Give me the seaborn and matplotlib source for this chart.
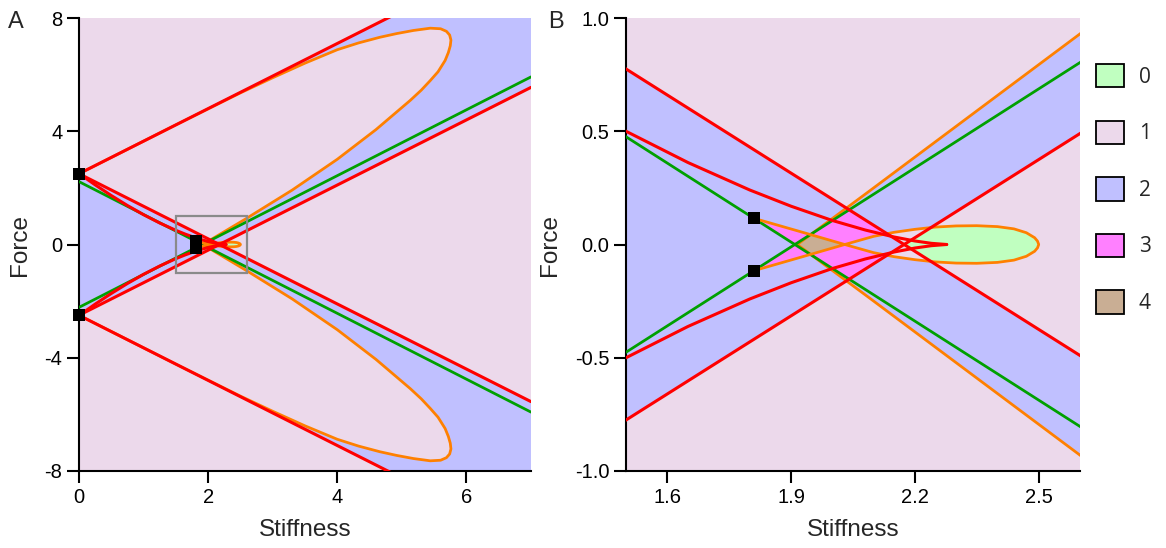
import numpy as np
import matplotlib
matplotlib.use("Agg")
import matplotlib.pyplot as plt
import seaborn as sns
from matplotlib.path import Path
from matplotlib.colors import ListedColormap
from matplotlib.patches import Patch, Rectangle

# ---- region legend ----
region_labels = ["0", "1", "2", "3", "4"]
region_colors = ["#c0ffc0", "#ecd9eb", "#c0c0ff", "#ff80ff", "#c9ae94"]

# ---- straight bifurcation lines (Stiffness, Force) ----
line_x = [0.0, 7.0]
red_rise_top = [2.5, 10.55]
red_fall_top = [2.5, -5.55]
red_rise_bot = [-2.5, 5.55]
red_fall_bot = [-2.5, -10.55]
green_fall = [2.22, -5.92]
green_rise = [-2.22, 5.92]

# ---- cusp branches meeting at the tip ----
cusp_x = [0.0, 0.25, 0.5, 0.75, 1.0, 1.25, 1.5, 1.65, 1.8, 1.9, 2.0, 2.08,
          2.15, 2.2, 2.24, 2.277]
cusp_upper = [2.508, 2.107, 1.729, 1.377, 1.053, 0.760, 0.500, 0.362, 0.2405,
              0.169, 0.106, 0.0638, 0.033, 0.0156, 0.0052, 0.0]
cusp_lower = [-2.508, -2.107, -1.729, -1.377, -1.053, -0.760, -0.500, -0.362,
              -0.2405, -0.169, -0.106, -0.0638, -0.033, -0.0156, -0.0052, 0.0]

# ---- large orange lobes ----
lobe_x = [1.915, 2.092, 2.6, 3.3, 4.0, 4.6, 5.13, 5.30, 5.44, 5.56, 5.67, 5.72,
          5.75, 5.76, 5.74, 5.69, 5.60, 5.44, 5.18, 4.92, 4.66, 4.33, 4.0, 3.5,
          3.0, 2.5, 2.0, 1.5, 1.0, 0.5, 0.0]
lobe_upper_y = [0.0, 0.239, 0.93, 1.92, 3.01, 4.06, 5.09, 5.45, 5.79, 6.10,
                6.50, 6.78, 7.02, 7.22, 7.40, 7.53, 7.62, 7.64, 7.56, 7.45,
                7.32, 7.12, 6.88, 6.405, 5.89, 5.355, 4.79, 4.225, 3.65,
                3.075, 2.5]
lobe_lower_y = [-0.0, -0.239, -0.93, -1.92, -3.01, -4.06, -5.09, -5.45, -5.79,
                -6.10, -6.50, -6.78, -7.02, -7.22, -7.40, -7.53, -7.62, -7.64,
                -7.56, -7.45, -7.32, -7.12, -6.88, -6.405, -5.89, -5.355,
                -4.79, -4.225, -3.65, -3.075, -2.5]

# ---- small self-crossing orange loop ----
loop_x = [1.809, 1.92, 2.03, 2.10, 2.15, 2.20, 2.25, 2.30, 2.35, 2.40, 2.44,
          2.47, 2.49, 2.497, 2.50, 2.497, 2.49, 2.47, 2.44, 2.40, 2.35, 2.30,
          2.25, 2.20, 2.15, 2.10, 2.03, 1.92, 1.809]
loop_y = [0.116, 0.058, 0.0, -0.036, -0.054, -0.067, -0.077, -0.082, -0.083,
          -0.079, -0.069, -0.052, -0.030, -0.015, 0.0, 0.015, 0.030, 0.052,
          0.069, 0.079, 0.083, 0.082, 0.077, 0.067, 0.054, 0.036, 0.0, -0.058,
          -0.116]
loop_cross_index = 2

# ---- special points ----
pts_a_x = [0.0, 0.0, 1.809, 1.809]
pts_a_y = [2.5, -2.5, 0.116, -0.116]
pts_b_x = [1.809, 1.809]
pts_b_y = [0.116, -0.116]

# ---- axes ----
a_xlim, a_ylim = (0.0, 7.0), (-8.0, 8.0)
a_xticks = [0, 2, 4, 6]
a_yticks = [-8, -4, 0, 4, 8]
a_yticklabels = ["-8", "-4", "0", "4", "8"]
b_xlim, b_ylim = (1.5, 2.6), (-1.0, 1.0)
b_xticks = [1.6, 1.9, 2.2, 2.5]
b_xticklabels = ["1.6", "1.9", "2.2", "2.5"]
b_yticks = [-1.0, -0.5, 0.0, 0.5, 1.0]
b_yticklabels = ["-1.0", "-0.5", "0.0", "0.5", "1.0"]

RED, GREEN, ORANGE = "#ff0000", "#00a000", "#ff8000"


def classify(X, Y):
    """Number of coexisting states on a (Stiffness, Force) grid."""
    r1u = np.interp(X, line_x, red_rise_top)
    r2d = np.interp(X, line_x, red_fall_top)
    r2a = np.interp(X, line_x, red_rise_bot)
    r1l = np.interp(X, line_x, red_fall_bot)
    gd = np.interp(X, line_x, green_fall)
    ga = np.interp(X, line_x, green_rise)
    pts = np.column_stack([X.ravel(), Y.ravel()])
    in_up = Path(np.column_stack([lobe_x, lobe_upper_y])).contains_points(pts).reshape(X.shape)
    in_lo = Path(np.column_stack([lobe_x, lobe_lower_y])).contains_points(pts).reshape(X.shape)
    in_loop = Path(np.column_stack([loop_x, loop_y])).contains_points(pts).reshape(X.shape)

    cls = np.ones(X.shape, dtype=int)
    inner = (Y < r2d) & (Y > r2a)
    above = Y > np.maximum(r2d, r2a)
    below = Y < np.minimum(r2d, r2a)
    cls[inner] = 2
    cls[above & (Y < r1u) & ~in_up] = 2
    cls[below & (Y > r1l) & ~in_lo] = 2
    diamond = inner & (Y < ga) & (Y > gd)
    cls[diamond] = 3
    xc = loop_x[loop_cross_index]
    loop_left = in_loop & (X < xc)
    loop_right = in_loop & (X >= xc)
    green_wedge = (Y < gd) & (Y > ga)
    cls[loop_left & ~green_wedge] = 3
    cls[loop_left & diamond] = 4
    cls[loop_right] -= 1
    return cls


def draw_regions(ax, xlim, ylim, nx, ny):
    xs = np.linspace(xlim[0], xlim[1], nx)
    ys = np.linspace(ylim[0], ylim[1], ny)
    X, Y = np.meshgrid(xs, ys)
    cls = classify(X, Y)
    ax.imshow(cls, extent=(xlim[0], xlim[1], ylim[0], ylim[1]), origin="lower",
              cmap=ListedColormap(region_colors), vmin=-0.5, vmax=4.5,
              interpolation="nearest", aspect="auto", zorder=0)


def draw_curves(ax, lw, sq_size, sq_x, sq_y):
    kw = dict(ax=ax, sort=False, estimator=None, legend=False)
    sns.lineplot(x=lobe_x, y=lobe_upper_y, color=ORANGE, lw=lw * 0.9, zorder=2, **kw)
    sns.lineplot(x=lobe_x, y=lobe_lower_y, color=ORANGE, lw=lw * 0.9, zorder=2, **kw)
    sns.lineplot(x=line_x, y=green_fall, color=GREEN, lw=lw * 0.9, zorder=3, **kw)
    sns.lineplot(x=line_x, y=green_rise, color=GREEN, lw=lw * 0.9, zorder=3, **kw)
    sns.lineplot(x=loop_x, y=loop_y, color=ORANGE, lw=lw * 0.9, zorder=4, **kw)
    for ys in (red_rise_top, red_fall_top, red_rise_bot, red_fall_bot):
        sns.lineplot(x=line_x, y=ys, color=RED, lw=lw, zorder=5, **kw)
    sns.lineplot(x=cusp_x, y=cusp_upper, color=RED, lw=lw, zorder=5, **kw)
    sns.lineplot(x=cusp_x, y=cusp_lower, color=RED, lw=lw, zorder=5, **kw)
    sns.scatterplot(x=sq_x, y=sq_y, ax=ax, marker="s", s=sq_size, color="black",
                    edgecolor="none", zorder=8, legend=False, clip_on=False)


def style_axis(ax, xlim, ylim):
    ax.set_xlim(*xlim)
    ax.set_ylim(*ylim)
    sns.despine(ax=ax)
    for s in ("left", "bottom"):
        ax.spines[s].set_linewidth(1.5)
        ax.spines[s].set_color("black")
    ax.tick_params(axis="both", direction="out", length=8.5, width=1.5,
                   labelsize=14.5, pad=3.5, color="black", labelcolor="black")
    ax.set_xlabel("Stiffness", fontsize=17.5, labelpad=9)
    ax.set_ylabel("Force", fontsize=17.5, labelpad=10)
    ax.grid(False)


sns.set_theme(style="ticks")
plt.rcParams["font.family"] = ["Liberation Sans", "DejaVu Sans"]

fig = plt.figure(figsize=(11.66, 5.48), dpi=100)
W, H = 1166.0, 548.0
axA = fig.add_axes([79 / W, 77 / H, 452 / W, 453 / H])
axB = fig.add_axes([626 / W, 77 / H, 454 / W, 453 / H])

# panel A
draw_regions(axA, a_xlim, a_ylim, 1400, 1600)
draw_curves(axA, 2.2, 75, pts_a_x, pts_a_y)
axA.add_patch(Rectangle((b_xlim[0], b_ylim[0]), b_xlim[1] - b_xlim[0],
                        b_ylim[1] - b_ylim[0], fill=False, edgecolor="#8a8a8a",
                        lw=1.6, zorder=7))
style_axis(axA, a_xlim, a_ylim)
axA.set_xticks(a_xticks)
axA.set_yticks(a_yticks)
axA.set_yticklabels(a_yticklabels)

# panel B
draw_regions(axB, b_xlim, b_ylim, 1200, 1100)
draw_curves(axB, 2.2, 75, pts_b_x, pts_b_y)
style_axis(axB, b_xlim, b_ylim)
axB.set_xticks(b_xticks)
axB.set_xticklabels(b_xticklabels)
axB.set_yticks(b_yticks)
axB.set_yticklabels(b_yticklabels)

fig.text(8 / W, 1 - 28 / H, "A", fontsize=17, va="baseline", ha="left")
fig.text(548 / W, 1 - 28 / H, "B", fontsize=17, va="baseline", ha="left")

handles = [Patch(facecolor=c, edgecolor="black", linewidth=1.3, label=l)
           for c, l in zip(region_colors, region_labels)]
fig.legend(handles=handles, loc="upper left",
           bbox_to_anchor=(1096 / W, 1 - 64 / H), frameon=False,
           prop={"family": ["Open Sans", "DejaVu Sans"], "size": 15},
           handlelength=1.35, handleheight=1.35, labelspacing=1.58,
           handletextpad=0.7, borderpad=0, borderaxespad=0)

fig.savefig("out.png", dpi=100)
